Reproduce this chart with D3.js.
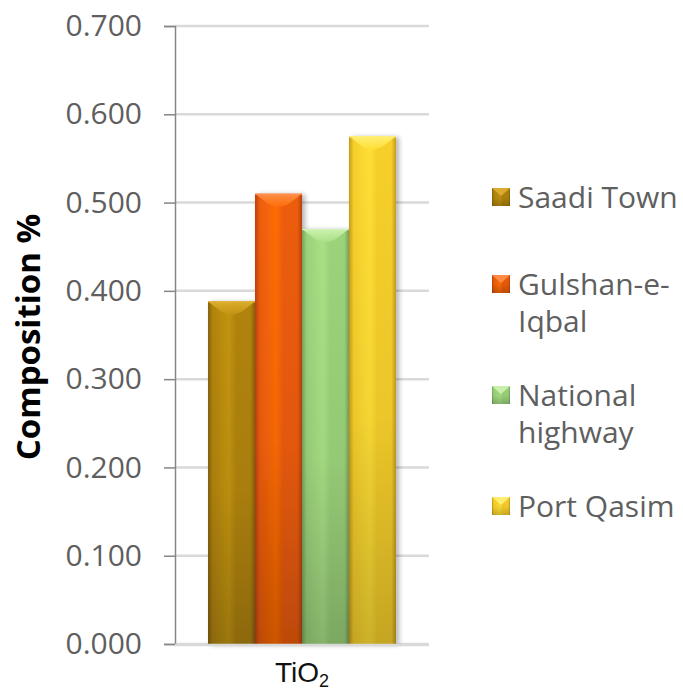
<!DOCTYPE html>
<html>
<head>
<meta charset="utf-8">
<script src="https://cdn.jsdelivr.net/npm/d3@7/dist/d3.min.js"></script>
<style>
  html, body { margin: 0; padding: 0; background: #fff; }
  svg { display: block; }
</style>
</head>
<body>
<svg id="chart" width="683" height="694"></svg>
<script>
// Chart data
const categories = ["TiO2"];
const seriesNames = ["Saadi Town", "Gulshan-e-Iqbal", "National highway", "Port Qasim"];
const values = [0.388, 0.510, 0.470, 0.575];
const yTicks = [0, 0.1, 0.2, 0.3, 0.4, 0.5, 0.6, 0.7];
const legendLines = [["Saadi Town"], ["Gulshan-e-", "Iqbal"], ["National", "highway"], ["Port Qasim"]];

// Per-series shading: edge, body, centre highlight, bevel highlight
const palette = [
  { edge: "#86620a", body: "#b0830c", light: "#c29412", bevel: "#e0b232" },
  { edge: "#b9420a", body: "#ec5c08", light: "#ff6c06", bevel: "#ff9350" },
  { edge: "#77a35d", body: "#9bd27a", light: "#a9e186", bevel: "#d0f5b4" },
  { edge: "#c59c1c", body: "#f6cf2b", light: "#ffdf36", bevel: "#fff27a" }
];

const svg = d3.select("#chart");
const plotLeft = 175, plotRight = 429;

const y = d3.scaleLinear().domain([0, 0.7]).range([644, 26]);
const x0 = d3.scaleBand().domain(categories).range([plotLeft, plotRight]).paddingInner(0).paddingOuter(0.1755);
const x1 = d3.scaleBand().domain(seriesNames).range([0, x0.bandwidth()]).padding(0);

const defs = svg.append("defs");

palette.forEach((p, i) => {
  const g = defs.append("linearGradient").attr("id", "hg" + i)
    .attr("x1", "0").attr("x2", "1").attr("y1", "0").attr("y2", "0");
  [[0, p.edge], [0.1, p.body], [0.45, p.light], [0.6, p.body], [0.9, p.body], [1, p.edge]]
    .forEach(([o, c]) => g.append("stop").attr("offset", o).attr("stop-color", c));

  const b = defs.append("linearGradient").attr("id", "bv" + i)
    .attr("x1", "0").attr("x2", "0").attr("y1", "0").attr("y2", "1");
  b.append("stop").attr("offset", 0).attr("stop-color", p.bevel);
  b.append("stop").attr("offset", 1).attr("stop-color", p.light);
});

const vs = defs.append("linearGradient").attr("id", "vshade")
  .attr("x1", "0").attr("x2", "0").attr("y1", "0").attr("y2", "1");
vs.append("stop").attr("offset", 0).attr("stop-color", "#000").attr("stop-opacity", 0);
vs.append("stop").attr("offset", 0.55).attr("stop-color", "#000").attr("stop-opacity", 0.04);
vs.append("stop").attr("offset", 1).attr("stop-color", "#000").attr("stop-opacity", 0.2);

const shadow = defs.append("filter").attr("id", "shadow")
  .attr("x", "-20%").attr("y", "-10%").attr("width", "150%").attr("height", "120%");
shadow.append("feGaussianBlur").attr("in", "SourceAlpha").attr("stdDeviation", 2.5).attr("result", "blur");
shadow.append("feOffset").attr("in", "blur").attr("dx", 3).attr("dy", 1).attr("result", "off");
shadow.append("feComponentTransfer").attr("in", "off").attr("result", "soft")
  .append("feFuncA").attr("type", "linear").attr("slope", 0.3);
const merge = shadow.append("feMerge");
merge.append("feMergeNode").attr("in", "soft");
merge.append("feMergeNode").attr("in", "SourceGraphic");

// Gridlines
svg.append("g")
  .selectAll("line")
  .data(yTicks)
  .join("line")
  .attr("x1", plotLeft).attr("x2", plotRight)
  .attr("y1", d => y(d)).attr("y2", d => y(d))
  .attr("stroke", "#d9d9d9")
  .attr("stroke-width", 2.5);

// Bars
const barG = svg.append("g");
categories.forEach(cat => {
  seriesNames.forEach((s, i) => {
    const bx = x0(cat) + x1(s);
    const bw = x1.bandwidth();
    const by = y(values[i]);
    const bh = y(0) - by;
    const bev = 9;
    const g = barG.append("g").attr("filter", "url(#shadow)");
    g.append("rect").attr("x", bx).attr("y", by).attr("width", bw).attr("height", bh)
      .attr("fill", `url(#hg${i})`);
    g.append("rect").attr("x", bx).attr("y", by).attr("width", bw).attr("height", bh)
      .attr("fill", "url(#vshade)");
    g.append("path")
      .attr("d", `M${bx},${by} L${bx + bw},${by} L${bx + bw - bev * 1.3},${by + bev} Q${bx + bw / 2},${by + bev * 1.9} ${bx + bev * 1.3},${by + bev} Z`)
      .attr("fill", `url(#bv${i})`)
      .attr("opacity", 0.9);
    g.append("line").attr("x1", bx).attr("x2", bx + bw).attr("y1", by + 0.5).attr("y2", by + 0.5)
      .attr("stroke", palette[i].bevel).attr("stroke-width", 1);
  });
});

// Y axis
const yAxis = d3.axisLeft(y)
  .tickValues(yTicks)
  .tickFormat(d3.format(".3f"))
  .tickSize(11)
  .tickPadding(22);
const ya = svg.append("g").attr("transform", `translate(${plotLeft},0)`).call(yAxis);
ya.select(".domain").attr("stroke", "#868686").attr("stroke-width", 1.5);
ya.selectAll(".tick line").attr("stroke", "#868686").attr("stroke-width", 1.5);
ya.selectAll(".tick text")
  .attr("fill", "#5f5f5f")
  .style("font-family", "'Open Sans', sans-serif")
  .style("font-size", "30px");

// Baseline over bars
svg.append("line")
  .attr("x1", plotLeft).attr("x2", plotRight)
  .attr("y1", y(0) + 1).attr("y2", y(0) + 1)
  .attr("stroke", "#d9d9d9").attr("stroke-width", 2.5);

// X category label
const xl = svg.append("text")
  .attr("x", x0(categories[0]) + x0.bandwidth() / 2)
  .attr("y", 682)
  .attr("text-anchor", "middle")
  .attr("fill", "#111")
  .style("font-family", "'Liberation Sans', Arial, sans-serif")
  .style("font-size", "28px");
xl.append("tspan").text("TiO");
xl.append("tspan").text("2").attr("dy", 5).style("font-size", "18px");

// Y axis title
svg.append("text")
  .attr("transform", "translate(40,337) rotate(-90)")
  .attr("text-anchor", "middle")
  .attr("fill", "#000")
  .style("font-family", "'Open Sans', sans-serif")
  .style("font-weight", "bold")
  .style("font-size", "33px")
  .text("Composition %");

// Legend
const legendFirstLine = [197, 284, 395, 506];
const lineGap = 37;
const leg = svg.append("g");
seriesNames.forEach((s, i) => {
  const cy = legendFirstLine[i];
  const m = 18;
  const mx = 492, my = cy - m / 2;
  leg.append("rect").attr("x", mx).attr("y", my).attr("width", m).attr("height", m)
    .attr("fill", `url(#hg${i})`);
  leg.append("rect").attr("x", mx).attr("y", my).attr("width", m).attr("height", m)
    .attr("fill", "url(#vshade)");
  leg.append("path")
    .attr("d", `M${mx},${my} L${mx + m},${my} L${mx + m / 2},${my + m * 0.45} Z`)
    .attr("fill", palette[i].bevel).attr("opacity", 0.85);
  const t = leg.append("text")
    .attr("x", 518)
    .attr("fill", "#5f5f5f")
    .style("font-family", "'Open Sans', sans-serif")
    .style("font-size", "30px");
  legendLines[i].forEach((ln, k) => {
    t.append("tspan").attr("x", 518).attr("y", cy + k * lineGap).attr("dy", "0.35em").text(ln);
  });
});
</script>
</body>
</html>
